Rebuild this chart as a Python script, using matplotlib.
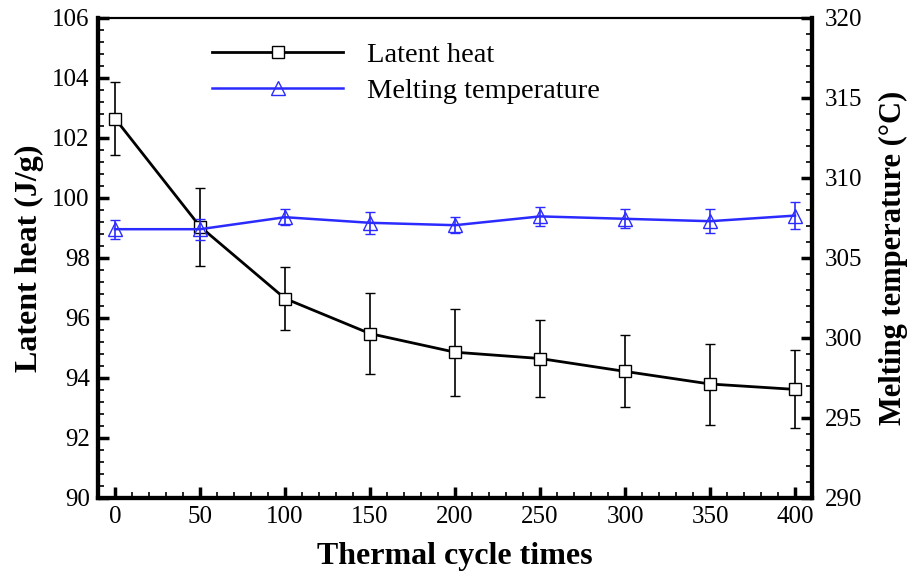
import matplotlib
matplotlib.use("Agg")
import matplotlib.pyplot as plt
from matplotlib.ticker import MultipleLocator
from matplotlib.lines import Line2D

cycles = [0, 50, 100, 150, 200, 250, 300, 350, 400]
latent_heat = [102.65, 99.05, 96.65, 95.48, 94.86, 94.65, 94.22, 93.8, 93.62]
latent_err = [1.2, 1.3, 1.05, 1.35, 1.45, 1.3, 1.2, 1.35, 1.3]
melt_temp = [306.8, 306.8, 307.55, 307.2, 307.05, 307.6, 307.45, 307.3, 307.65]
melt_err = [0.6, 0.65, 0.5, 0.7, 0.5, 0.6, 0.6, 0.75, 0.85]

plt.rcParams['font.family'] = ['Liberation Serif', 'DejaVu Serif']

BLUE = '#2b2bff'

fig = plt.figure(figsize=(9.08, 5.81), dpi=100)
ax = fig.add_axes([98/908, 1-498/581, 714/908, 480/581])
ax2 = ax.twinx()

ax.errorbar(cycles, latent_heat, yerr=latent_err, color='black', lw=2.0,
            marker='s', ms=9, mfc='white', mec='black', mew=1.0,
            ecolor='black', elinewidth=1.2, capsize=3.5, capthick=1.2, zorder=3)
ax2.errorbar(cycles, melt_temp, yerr=melt_err, color=BLUE, lw=1.8,
             marker='^', ms=10, mfc='none', mec=BLUE, mew=1.0,
             ecolor=BLUE, elinewidth=1.2, capsize=3.5, capthick=1.2, zorder=3)

ax.set_xlim(-10, 410)
ax.set_ylim(90, 106)
ax2.set_ylim(290, 320)

ax.xaxis.set_major_locator(MultipleLocator(50))
ax.xaxis.set_minor_locator(MultipleLocator(10))
ax.yaxis.set_major_locator(MultipleLocator(2))
ax.yaxis.set_minor_locator(MultipleLocator(0.4))
ax2.yaxis.set_major_locator(MultipleLocator(5))
ax2.yaxis.set_minor_locator(MultipleLocator(1))

for a in (ax, ax2):
    a.tick_params(which='major', direction='in', length=8, width=2.5, labelsize=18)
    a.tick_params(which='minor', direction='in', length=4, width=1.2)
ax.tick_params(axis='x', which='both', top=False, pad=6)
ax.tick_params(axis='y', which='both', pad=6)
ax2.tick_params(axis='y', which='both', pad=9)
ax2.tick_params(axis='x', which='both', top=False)

for a in (ax, ax2):
    a.spines['top'].set_linewidth(1.5)
    a.spines['left'].set_linewidth(3)
    a.spines['right'].set_linewidth(3)
    a.spines['bottom'].set_linewidth(3)

ax.set_xlabel('Thermal cycle times', fontsize=23, fontweight='bold', labelpad=10)
ax.set_ylabel('Latent heat (J/g)', fontsize=23, fontweight='bold', labelpad=6)
ax2.set_ylabel('Melting temperature (°C)', fontsize=22, fontweight='bold',
               rotation=90, labelpad=12)

handles = [
    Line2D([], [], color='black', lw=2.0, marker='s', ms=9, mfc='white',
           mec='black', mew=1.0),
    Line2D([], [], color=BLUE, lw=1.8, marker='^', ms=10, mfc='none',
           mec=BLUE, mew=1.0),
]
leg = ax.legend(handles, ['Latent heat', 'Melting temperature'],
                loc='upper left', bbox_to_anchor=(0.124, 1.004), frameon=False,
                fontsize=20.5, handlelength=4.6, handletextpad=0.85,
                labelspacing=0.36, numpoints=1)

fig.savefig('out.png', dpi=100)
